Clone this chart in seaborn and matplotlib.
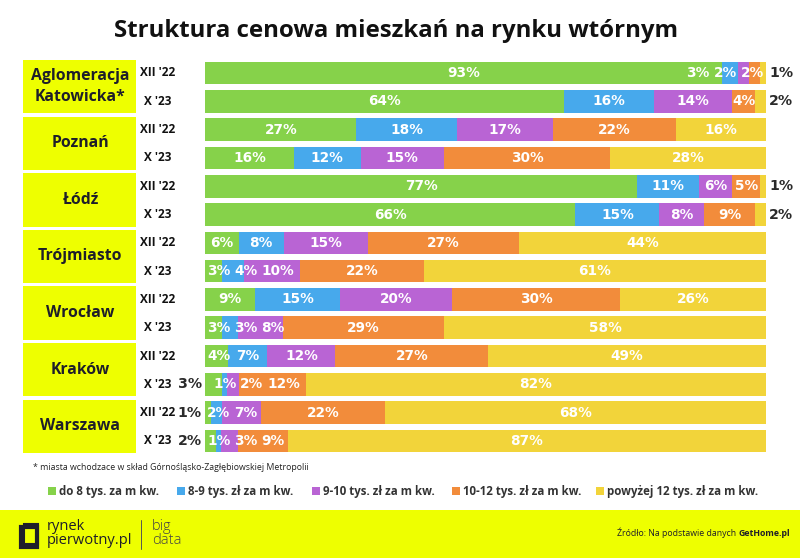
import numpy as np
import pandas as pd
import seaborn as sns
import matplotlib.pyplot as plt
from matplotlib.patches import Rectangle

# ---------------- data ----------------
cities = ["Aglomeracja\nKatowicka*", "Poznań", "Łódź", "Trójmiasto",
          "Wrocław", "Kraków", "Warszawa"]
periods = ["XII '22", "X '23"]
categories = ["do 8 tys. za m kw.", "8-9 tys. zł za m kw.", "9-10 tys. zł za m kw.",
              "10-12 tys. zł za m kw.", "powyżej 12 tys. zł za m kw."]
# rows: for each city XII'22, X'23
do_8 = [93, 64, 27, 16, 77, 66, 6, 3, 9, 3, 4, 3, 1, 2]
t_8_9 = [3, 16, 18, 12, 11, 15, 8, 4, 15, 3, 7, 1, 2, 1]
t_9_10 = [2, 14, 17, 15, 6, 8, 15, 10, 20, 8, 12, 2, 7, 3]
t_10_12 = [2, 4, 22, 30, 5, 9, 27, 22, 30, 29, 27, 12, 22, 9]
over_12 = [1, 2, 16, 28, 1, 2, 44, 61, 26, 58, 49, 82, 68, 87]

colors = ["#86D24A", "#47A9EC", "#B964D4", "#F28C3B", "#F2D43A"]
BOX = "#EEFF00"
DARK = "#1E1E2A"

# labels drawn outside the bar: (row, segment) -> side
outside = {(0, 4): "right", (1, 4): "right", (4, 4): "right", (5, 4): "right",
           (11, 0): "left", (12, 0): "left", (13, 0): "left"}

W, H = 800, 558
sns.set_theme(style="white")
FONT = ["Open Sans", "DejaVu Sans"]
LBL_FONT = ["DejaVu Sans"]
plt.rcParams["font.family"] = FONT

fig = plt.figure(figsize=(W / 100, H / 100), dpi=100)
fig.patch.set_facecolor("white")

def fx(x):
    return x / W

def fy(y):
    return 1 - y / H

# axes placement in pixels
bar_left, bar_right = 205, 766
row0, rowN = 73, 441
nrows = 14
step = (rowN - row0) / (nrows - 1)
ax = fig.add_axes([fx(bar_left), fy(rowN + step / 2),
                   (bar_right - bar_left) / W, (rowN - row0 + step) / H])

vals = np.array([do_8, t_8_9, t_9_10, t_10_12, over_12], dtype=float).T  # (14,5)
totals = vals.sum(axis=1, keepdims=True)
cum = np.cumsum(vals, axis=1) / totals * 100
row_ids = [str(i) for i in range(nrows)]

for k in range(4, -1, -1):
    df = pd.DataFrame({"row": row_ids, "value": cum[:, k]})
    sns.barplot(data=df, x="value", y="row", order=row_ids, orient="h",
                color=colors[k], saturation=1, width=0.8, errorbar=None,
                linewidth=0, ax=ax)

ax.set_xlim(0, 100)
ax.set_ylim(nrows - 0.5, -0.5)
ax.axis("off")

# ---------------- bar labels ----------------
fig.canvas.draw()
renderer = fig.canvas.get_renderer()
px_per_unit = (bar_right - bar_left) / 100.0
LBL_SIZE = 9.8
gap = 4 / px_per_unit
pad = 2 / px_per_unit

for r in range(nrows):
    starts = np.concatenate([[0], cum[r, :-1]])
    ends = cum[r]
    inline = []
    for s in range(5):
        txt = f"{int(vals[r, s])}%"
        side = outside.get((r, s))
        if side == "right":
            ax.text(100 + 3 / px_per_unit, r, txt, ha="left", va="center",
                    color="#2A2A2A", fontsize=10.2, fontweight="bold", family=LBL_FONT)
        elif side == "left":
            ax.text(-3 / px_per_unit, r, txt, ha="right", va="center",
                    color="#2A2A2A", fontsize=10.2, fontweight="bold", family=LBL_FONT)
        else:
            t = ax.text((starts[s] + ends[s]) / 2, r, txt, ha="center", va="center",
                        color="white", fontsize=LBL_SIZE, fontweight="bold",
                        family=LBL_FONT)
            w = t.get_window_extent(renderer).width / px_per_unit
            inline.append([t, (starts[s] + ends[s]) / 2, w])
    # forward pass
    xs = []
    for i, (t, c, w) in enumerate(inline):
        if i == 0:
            x = max(c, w / 2 + pad)
        else:
            x = max(c, xs[-1] + inline[i - 1][2] / 2 + w / 2 + gap)
        xs.append(x)
    # backward pass
    for i in range(len(inline) - 1, -1, -1):
        w = inline[i][2]
        if i == len(inline) - 1:
            xs[i] = min(xs[i], 100 - w / 2 - pad)
        else:
            xs[i] = min(xs[i], xs[i + 1] - inline[i + 1][2] / 2 - w / 2 - gap)
    for (t, c, w), x in zip(inline, xs):
        t.set_x(x)

# ---------------- title ----------------
fig.text(fx(396), fy(31), "Struktura cenowa mieszkań na rynku wtórnym",
         ha="center", va="center", fontsize=17.3, fontweight="bold", color="#111111")

# ---------------- city boxes & period labels ----------------
for i, city in enumerate(cities):
    yc0 = row0 + step * (2 * i)
    yc1 = row0 + step * (2 * i + 1)
    top = yc0 - 13
    bot = yc1 + 12
    fig.patches.append(Rectangle((fx(23), fy(bot)), (136 - 23) / W, (bot - top) / H,
                                 transform=fig.transFigure, facecolor=BOX,
                                 edgecolor="none", zorder=0))
    fig.text(fx(80), fy((top + bot) / 2), city, ha="center", va="center",
             fontsize=11.3, fontweight="bold", color=DARK, linespacing=1.45)
    for j, p in enumerate(periods):
        yc = yc0 if j == 0 else yc1
        fig.text(fx(158), fy(yc), p, ha="center", va="center",
                 fontsize=8.5, fontweight="bold", color="#111111")

# ---------------- footnote & legend ----------------
fig.text(fx(33), fy(467), "* miasta wchodzace w skład Górnośląsko-Zagłębiowskiej Metropolii",
         ha="left", va="center", fontsize=6.3, color="#222222")

leg_x = [52, 181, 316, 456, 600]
for x, c, lab in zip(leg_x, colors, categories):
    fig.patches.append(Rectangle((fx(x - 4), fy(495)), 8 / W, 8 / H,
                                 transform=fig.transFigure, facecolor=c,
                                 edgecolor="none"))
    fig.text(fx(x + 7), fy(491), lab, ha="left", va="center",
             fontsize=8.3, fontweight="bold", color="#333333")

# ---------------- footer ----------------
fig.patches.append(Rectangle((0, 0), 1, (H - 510) / H, transform=fig.transFigure,
                             facecolor=BOX, edgecolor="none", zorder=0))
# logo icon
fig.patches.append(Rectangle((fx(21), fy(547)), 16 / W, 20 / H, transform=fig.transFigure,
                             facecolor="none", edgecolor=DARK, linewidth=3))
fig.patches.append(Rectangle((fx(24), fy(544)), 14 / W, 20 / H, transform=fig.transFigure,
                             facecolor="none", edgecolor=DARK, linewidth=1.5))
fig.text(fx(47), fy(526), "rynek", ha="left", va="center", fontsize=10.5,
         color=DARK, fontweight="medium")
fig.text(fx(47), fy(541), "pierwotny.pl", ha="left", va="center", fontsize=10.5,
         color=DARK, fontweight="medium")
fig.add_artist(plt.Line2D([fx(141), fx(141)], [fy(520), fy(549)],
                          transform=fig.transFigure, color="#555555", linewidth=0.7))
fig.text(fx(152), fy(526), "big", ha="left", va="center", fontsize=10.5,
         color="#444444", fontweight="light")
fig.text(fx(152), fy(541), "data", ha="left", va="center", fontsize=10.5,
         color="#444444", fontweight="light")

fig.text(fx(790), fy(533), "Źródło: Na podstawie danych ", ha="right", va="center",
         fontsize=6.3, color=DARK)
src = fig.text(fx(790), fy(533), "GetHome.pl", ha="right", va="center",
               fontsize=6.3, color=DARK, fontweight="bold")
fig.canvas.draw()
wsrc = src.get_window_extent(fig.canvas.get_renderer()).width
fig.texts[-2].set_x(fx(790 - wsrc))

fig.savefig("out.png", dpi=100, facecolor="white")
